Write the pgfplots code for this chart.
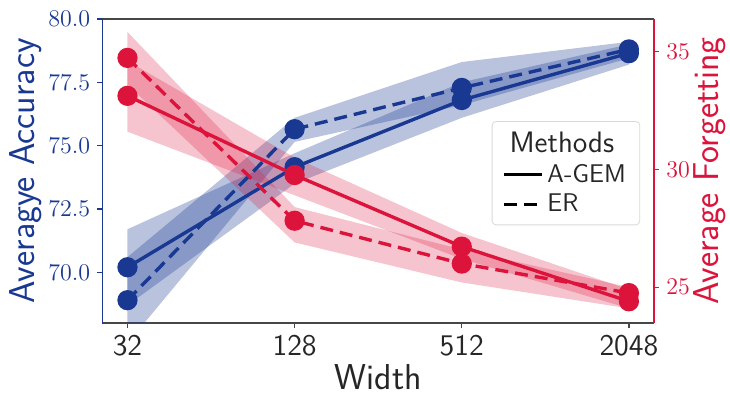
\documentclass[border=0pt]{standalone}
\usepackage{pgfplots}
\pgfplotsset{compat=1.18}
\usepgfplotslibrary{fillbetween}
\definecolor{accblue}{RGB}{24,56,146}
\definecolor{forgred}{RGB}{220,20,60}
\definecolor{spine}{RGB}{70,70,70}
\definecolor{txt}{RGB}{38,38,38}

\begin{document}
\begin{tikzpicture}
\pgfplotsset{
  common/.style={
    scale only axis, width=275.8pt, height=152pt,
    xmin=4.7, xmax=11.3,
    tick align=outside,
    major tick length=2.6pt,
    clip=true,
  },
}
% ---------------- left axis: accuracy ----------------
\begin{axis}[
  common,
  ymin=68, ymax=80,
  separate axis lines,
  every outer x axis line/.append style={spine, line width=0.7pt},
  every outer y axis line/.append style={accblue, line width=0.7pt},
  xtick pos=bottom, ytick pos=left,
  xtick={5,7,9,11}, xticklabels={32,128,512,2048},
  xticklabel style={font=\sffamily\fontsize{15}{18}\selectfont, text=txt},
  x tick style={spine, line width=0.6pt},
  ytick={70,72.5,75,77.5,80},
  yticklabel style={font=\fontsize{11.5}{13}\selectfont, text=accblue,
    /pgf/number format/fixed, /pgf/number format/fixed zerofill,
    /pgf/number format/precision=1},
  y tick style={accblue, line width=0.6pt},
  xlabel={Width},
  xlabel style={font=\sffamily\fontsize{18}{21}\selectfont, text=txt,
    at={(axis description cs:0.5,-0.178)}, anchor=center},
  ylabel={Averagye Accuracy},
  ylabel style={font=\sffamily\fontsize{18}{21}\selectfont, text=accblue,
    at={(axis description cs:-0.1385,0.5)}, anchor=center, rotate=0},
]
% A-GEM band
\addplot[name path=au, draw=none, forget plot] coordinates {(5,71.7) (7,74.7) (9,77.5) (11,79.0)};
\addplot[name path=al, draw=none, forget plot] coordinates {(5,68.7) (7,73.5) (9,76.1) (11,78.2)};
\addplot[fill=accblue, fill opacity=0.3, draw=none, forget plot] fill between[of=au and al];
% ER band
\addplot[name path=eu, draw=none, forget plot] coordinates {(5,70.6) (7,76.1) (9,78.3) (11,79.1)};
\addplot[name path=el, draw=none, forget plot] coordinates {(5,67.2) (7,75.15) (9,76.6) (11,78.45)};
\addplot[fill=accblue, fill opacity=0.3, draw=none, forget plot] fill between[of=eu and el];
% lines
\addplot[accblue, line width=1.7pt, mark=*, mark size=4.2pt, mark options={solid}]
  coordinates {(5,70.2) (7,74.15) (9,76.8) (11,78.65)};
\addplot[accblue, line width=1.7pt, dash pattern=on 6.5pt off 3.5pt, mark=*, mark size=4.2pt, mark options={solid}]
  coordinates {(5,68.9) (7,75.65) (9,77.28) (11,78.8)};
\end{axis}
% ---------------- right axis: forgetting ----------------
\begin{axis}[
  common,
  ymin=23.48, ymax=36.38,
  axis x line=none,
  axis y line*=right,
  y axis line style={forgred, line width=0.7pt, -},
  ytick={25,30,35},
  yticklabel style={font=\fontsize{11.5}{13}\selectfont, text=forgred},
  y tick style={forgred, line width=0.6pt},
  ylabel={Average Forgetting},
  ylabel style={font=\sffamily\fontsize{18}{21}\selectfont, text=forgred,
    at={(axis description cs:1.1015,0.5)}, anchor=center, rotate=0},
  legend style={at={(axis description cs:0.975,0.664)}, anchor=north east,
    draw=black!15, rounded corners=2pt, fill=white, fill opacity=0.8, text opacity=1,
    font=\sffamily\fontsize{12.8}{14}\selectfont, text=txt,
    inner xsep=5pt, inner ysep=3pt, row sep=0.5pt},
  legend cell align=left,
  legend image code/.code={\draw[#1, line width=1.7pt] (0pt,0pt) -- (19pt,0pt);},
]
% A-GEM band
\addplot[name path=fau, draw=none, forget plot] coordinates {(5,34.6) (7,30.5) (9,27.3) (11,24.9)};
\addplot[name path=fal, draw=none, forget plot] coordinates {(5,31.6) (7,28.9) (9,26.2) (11,24.1)};
\addplot[fill=forgred, fill opacity=0.25, draw=none, forget plot] fill between[of=fau and fal];
% ER band
\addplot[name path=feu, draw=none, forget plot] coordinates {(5,35.83) (7,28.4) (9,26.6) (11,25.0)};
\addplot[name path=fel, draw=none, forget plot] coordinates {(5,33.6) (7,26.9) (9,25.2) (11,24.1)};
\addplot[fill=forgred, fill opacity=0.25, draw=none, forget plot] fill between[of=feu and fel];
% lines
\addplot[forgred, line width=1.7pt, mark=*, mark size=4.2pt, mark options={solid}, forget plot]
  coordinates {(5,33.12) (7,29.76) (9,26.72) (11,24.4)};
\addplot[forgred, line width=1.7pt, dash pattern=on 6.5pt off 3.5pt, mark=*, mark size=4.2pt, mark options={solid}, forget plot]
  coordinates {(5,34.73) (7,27.82) (9,26.0) (11,24.75)};
% legend
\addlegendimage{empty legend}
\addlegendentry{\hspace*{-19pt}\fontsize{14.8}{16}\selectfont Methods}
\addlegendimage{black}
\addlegendentry{A-GEM}
\addlegendimage{black, dash pattern=on 6.5pt off 3.5pt}
\addlegendentry{ER}
\end{axis}
\pgfresetboundingbox
\path (-51.2pt,-36.5pt) rectangle (313.8pt,161.5pt);
\end{tikzpicture}
\end{document}
